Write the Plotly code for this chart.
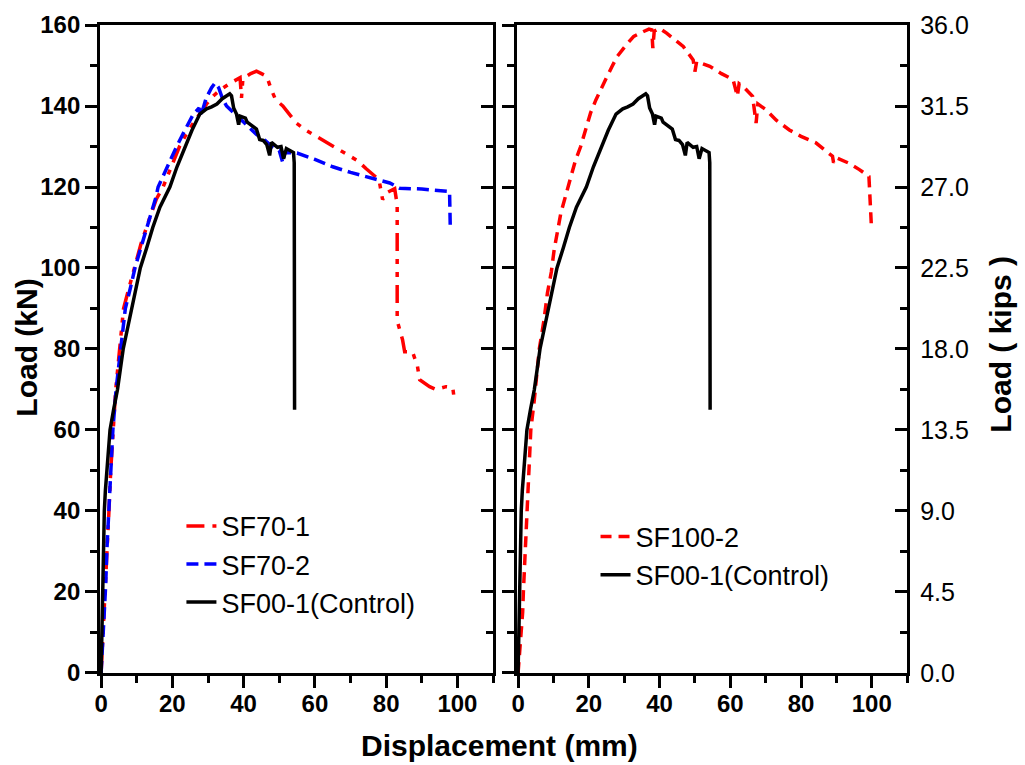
import plotly.graph_objects as go

# ---------------- data (displacement mm, load kN) ----------------
ctrl_disp = [0, 0.2, 0.3, 0.5, 0.6, 0.9, 1.2, 1.8, 2.5, 3.5, 4.6, 5.4, 6.2, 7.4, 8.6, 9.8, 11, 12.8,
             14.5, 16.5, 19.3, 21.3, 23.5, 25.5, 27.7, 29.6, 31, 32.5, 34, 35, 36.1, 36.6, 37.2, 38,
             38.6, 39, 40.5, 41, 42.5, 43.6, 44.5, 45.5, 46.5, 47.3, 47.8, 48.5, 49.5, 50.5, 51.2,
             52, 53, 54, 54.2, 54.3]
ctrl_load = [0, 10, 20, 30, 35, 40, 45, 52, 60, 65, 70, 75, 80, 85, 90, 95, 100, 105,
             110, 115, 120, 125, 130, 134, 138, 139.3, 139.8, 140.5, 141.8, 142.5, 143, 142.5, 139.5, 138,
             135.4, 137.5, 137, 136, 135, 134.3, 131.7, 131.5, 130.5, 127.8, 131, 130.5, 129.8, 130, 127,
             129.5, 129, 128.5, 126, 65]

sf70_1_disp = [0, 0.6, 1.2, 1.6, 2.2, 2.7, 3.3, 4.1, 5.2, 6.3, 7.8, 9.3, 11.2, 13.5, 15.5, 17.4, 19.7,
               22, 24.5, 27.7, 29.6, 31.5, 33.5, 36, 39, 39.4, 39.8, 42, 43.6, 45, 46.5, 47.8, 49, 51,
               54.8, 57.5, 60.4, 64, 68.8, 72, 74.4, 78, 79, 80, 82.4, 83.1, 83.1, 83.8, 84.6, 85.2,
               87.4, 88.8, 89.4, 92.2, 94, 96.8, 98.7, 99.2]
sf70_1_load = [0, 10, 20, 30, 40, 50, 60, 70, 80, 90, 95, 100, 106, 112, 117, 120, 125,
               130, 134, 138, 140.5, 142.5, 144, 145.5, 147, 142, 146.8, 148, 148.6, 148, 147.3, 144, 141.5, 140,
               135.8, 134, 132.5, 130.5, 128, 126.5, 124.5, 121.8, 116.9, 118.5, 119.6, 115.6, 87, 84.7, 82.3, 79.3,
               79.3, 75.7, 72.4, 70.7, 70, 70.7, 70.5, 67]

sf70_2_disp = [0, 0.5, 1, 1.3, 1.6, 2.2, 2.7, 3.3, 4.2, 5.4, 6.8, 8.2, 9.5, 11.5, 13.5, 15, 15.4, 16,
               18.5, 21.2, 23.5, 25.9, 27.5, 28, 29.5, 31, 32, 33, 34, 35.2, 37, 40, 43.6, 46, 48, 50,
               51, 51.5, 55, 60, 65, 70, 77, 81, 83.8, 90, 97.8, 98]
sf70_2_load = [0, 8, 15, 22, 30, 40, 50, 60, 70, 80, 90, 95, 100, 106, 112, 116, 117.5, 120,
               125, 130, 134, 138, 139.5, 137.5, 142, 144.5, 145.7, 144.5, 142, 140, 138.5, 136, 133, 131.5, 130, 129,
               126, 128.5, 128.4, 126.8, 125, 123.6, 122, 121, 119.7, 119.5, 118.9, 110]

sf100_2_disp = [0, 0.5, 1, 1.3, 1.5, 1.9, 2.2, 2.8, 3.6, 4.6, 5.2, 6, 7.3, 8.3, 9.4, 10.2, 12.1, 13.5,
                14.9, 16.2, 17.7, 19, 20.5, 22, 23.3, 25, 26.6, 28, 30.5, 32.7, 35.5, 37, 37.8, 38.1,
                38.5, 40, 42, 44.5, 46.7, 49.5, 50, 50.5, 52, 54.2, 57.5, 60.8, 62, 62.5, 64, 66.3,
                67.3, 67.8, 70.1, 73, 76.7, 80, 84.2, 88.9, 89.2, 90, 93.5, 96.5, 99.2, 99.9]
sf100_2_load = [0, 5, 10, 15, 20, 28, 35, 45, 60, 67.5, 74, 80, 87, 93.8, 99, 104.5, 113.6, 118,
                122.6, 126.5, 130, 134, 138.3, 141.5, 144, 147, 149.8, 152.2, 155, 157.2, 158.4, 159, 158.8, 154.3,
                158.5, 159.2, 158, 156.2, 154.7, 151.4, 148.5, 151, 150.5, 149.8, 148, 146.5, 142.4, 145.5, 144.5, 142.4,
                135.8, 140.5, 139.1, 136.5, 134.1, 132.5, 130.9, 127.6, 126, 127.2, 125.9, 124.3, 122.6, 110.3]

kn_ticks = [0, 20, 40, 60, 80, 100, 120, 140, 160]
kips_ticks = [0.0, 4.5, 9.0, 13.5, 18.0, 22.5, 27.0, 31.5, 36.0]
x_ticks = [0, 20, 40, 60, 80, 100]
KN_TO_KIPS = 36.0 / 160.0

FONT = "Arial, Liberation Sans, sans-serif"
RED = "#ff0000"
BLUE = "#0000ff"
BLACK = "#000000"

fig = go.Figure()

# left panel
fig.add_trace(go.Scatter(x=sf70_1_disp, y=sf70_1_load, mode="lines", name="SF70-1",
                         line=dict(color=RED, width=3.5, dash="18px,8px,5px,8px,5px,8px"),
                         xaxis="x", yaxis="y", legend="legend"))
fig.add_trace(go.Scatter(x=sf70_2_disp, y=sf70_2_load, mode="lines", name="SF70-2",
                         line=dict(color=BLUE, width=3.5, dash="12px,6px"),
                         xaxis="x", yaxis="y", legend="legend"))
fig.add_trace(go.Scatter(x=ctrl_disp, y=ctrl_load, mode="lines", name="SF00-1(Control)",
                         line=dict(color=BLACK, width=3.5),
                         xaxis="x", yaxis="y", legend="legend"))
# right panel
fig.add_trace(go.Scatter(x=sf100_2_disp, y=sf100_2_load, mode="lines", name="SF100-2",
                         line=dict(color=RED, width=3.5, dash="11px,7px"),
                         xaxis="x2", yaxis="y2", legend="legend2"))
fig.add_trace(go.Scatter(x=ctrl_disp, y=ctrl_load, mode="lines", name="SF00-1(Control)",
                         line=dict(color=BLACK, width=3.5),
                         xaxis="x2", yaxis="y2", legend="legend2"))

# invisible companions so the secondary (mirror-tick / kips) axes are drawn
fig.add_trace(go.Scatter(x=ctrl_disp, y=ctrl_load, mode="lines", showlegend=False,
                         hoverinfo="skip", line=dict(color="rgba(0,0,0,0)", width=0),
                         xaxis="x", yaxis="y3"))
fig.add_trace(go.Scatter(x=sf100_2_disp, y=[v * KN_TO_KIPS for v in sf100_2_load], mode="lines",
                         showlegend=False, hoverinfo="skip", line=dict(color="rgba(0,0,0,0)", width=0),
                         xaxis="x2", yaxis="y4"))

YDOM = [0.1203, 0.9673]
XDOM1 = [0.0976, 0.481]
XDOM2 = [0.5044, 0.885]
tickfont_b = dict(family=FONT, size=24, color="black", weight="bold")

common_x = dict(range=[-0.3, 110], tickvals=x_ticks, ticks="outside", ticklen=12, tickwidth=3,
                tickcolor="black", showline=True, linewidth=3, linecolor="black", mirror=True,
                showgrid=False, zeroline=False, tickfont=tickfont_b, ticklabelstandoff=-5,
                minor=dict(ticks="outside", dtick=10, tick0=0, ticklen=7, tickwidth=3, tickcolor="black"))

fig.update_layout(
    width=1025, height=765,
    margin=dict(l=0, r=0, t=0, b=0, autoexpand=False),
    paper_bgcolor="white", plot_bgcolor="white",
    font=dict(family=FONT, color="black"),
    xaxis=dict(domain=XDOM1, anchor="y", **common_x),
    xaxis2=dict(domain=XDOM2, anchor="y2", **common_x),
    yaxis=dict(domain=YDOM, anchor="x", range=[0, 160], tickvals=kn_ticks, ticks="outside",
               ticklen=12, tickwidth=3, tickcolor="black", showline=True, linewidth=3,
               linecolor="black", mirror=True, showgrid=False, zeroline=False, tickfont=tickfont_b,
               minor=dict(ticks="outside", dtick=10, tick0=0, ticklen=7, tickwidth=3, tickcolor="black")),
    yaxis3=dict(overlaying="y", anchor="x", side="right", range=[0, 160], tickvals=kn_ticks,
                ticks="inside", ticklen=12, tickwidth=3, tickcolor="black", showticklabels=False,
                showline=False, showgrid=False, zeroline=False,
                minor=dict(ticks="inside", dtick=10, tick0=0, ticklen=7, tickwidth=3, tickcolor="black")),
    yaxis2=dict(domain=YDOM, anchor="x2", range=[0, 160], tickvals=kn_ticks, ticks="outside",
                ticklen=12, tickwidth=3, tickcolor="black", showline=True, linewidth=3,
                linecolor="black", mirror=True, showgrid=False, zeroline=False, showticklabels=False,
                minor=dict(ticks="outside", dtick=10, tick0=0, ticklen=7, tickwidth=3, tickcolor="black")),
    yaxis4=dict(overlaying="y2", anchor="x2", side="right", range=[0, 36], tickvals=kips_ticks,
                tickformat=".1f", ticks="inside", ticklen=12, tickwidth=3, tickcolor="black",
                showline=False, showgrid=False, zeroline=False, ticklabelstandoff=12,
                tickfont=dict(family=FONT, size=25, color="black"),
                minor=dict(ticks="inside", dtick=2.25, tick0=0, ticklen=7, tickwidth=3, tickcolor="black")),
    legend=dict(x=0.177, y=0.344, xanchor="left", yanchor="top", bgcolor="rgba(0,0,0,0)",
                font=dict(family=FONT, size=27, color="black"), tracegroupgap=0),
    legend2=dict(x=0.581, y=0.330, xanchor="left", yanchor="top", bgcolor="rgba(0,0,0,0)",
                 font=dict(family=FONT, size=27, color="black"), tracegroupgap=0),
    annotations=[
        dict(text="<b>Displacement (mm)</b>", x=0.487, y=0.026, xref="paper", yref="paper",
             showarrow=False, font=dict(family=FONT, size=30, color="black"),
             xanchor="center", yanchor="middle"),
        dict(text="<b>Load (kN)</b>", x=0.025, y=0.545, xref="paper", yref="paper",
             showarrow=False, textangle=-90, font=dict(family=FONT, size=30, color="black"),
             xanchor="center", yanchor="middle"),
        dict(text="<b>Load ( kips )</b>", x=0.976, y=0.55, xref="paper", yref="paper",
             showarrow=False, textangle=-90, font=dict(family=FONT, size=30, color="black"),
             xanchor="center", yanchor="middle"),
    ],
)

fig.write_html("out.html")
